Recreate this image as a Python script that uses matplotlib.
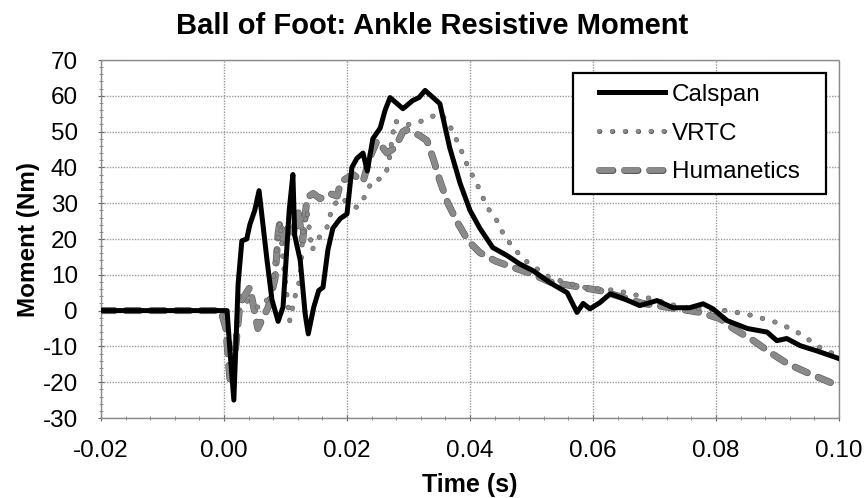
import matplotlib
matplotlib.use("Agg")
import matplotlib.pyplot as plt
import matplotlib.patheffects as pe
from matplotlib.patches import Rectangle
from matplotlib.ticker import MultipleLocator, FormatStrFormatter

plt.rcParams['font.family'] = ['Liberation Sans', 'DejaVu Sans']
plt.rcParams['axes.unicode_minus'] = False

# ---- data ----
calspan_t = [-0.02, 0.0005, 0.0010, 0.0016, 0.0023, 0.0029, 0.0037, 0.0042, 0.0050, 0.0057,
             0.0070, 0.0078, 0.0088, 0.0096, 0.0102, 0.0106, 0.0112, 0.0115, 0.0124, 0.0132,
             0.0137, 0.0146, 0.0154, 0.0161, 0.0169, 0.0177, 0.0189, 0.0200, 0.0208, 0.0216,
             0.0226, 0.0233, 0.0242, 0.0254, 0.0262, 0.0270, 0.0291, 0.0307, 0.0317, 0.0327,
             0.0340, 0.0351, 0.0367, 0.0384, 0.0400, 0.0416, 0.0437, 0.0460, 0.0481, 0.0502,
             0.0530, 0.0558, 0.0574, 0.0584, 0.0595, 0.0611, 0.0628, 0.0649, 0.0676, 0.0704,
             0.0730, 0.0757, 0.0779, 0.0795, 0.0818, 0.0851, 0.0883, 0.0899, 0.0915, 0.0937,
             0.0963, 0.1000]
calspan_m = [0, 0, -12, -25, 7.5, 19.5, 20, 24, 28, 33.5,
             14, 3, -3, 1, 17, 28, 38, 21, 14, -1,
             -6.5, 1, 5.6, 6.5, 17, 23, 25.7, 27, 40, 42.5,
             44, 39, 48, 51, 56, 59.5, 56.4, 58.7, 59.5, 61.5,
             59.5, 57.8, 45.5, 35.5, 28, 23, 17.6, 15.4, 13, 11.2,
             7.8, 5, -0.5, 2, 0.5, 2.2, 4.7, 3.4, 1.4, 2.8,
             0.8, 0.8, 1.9, 0.5, -2.8, -5, -6, -8.4, -7.8, -9.8,
             -11.2, -13.4]

vrtc_t = [-0.02, 0.0, 0.0008, 0.0015, 0.0020, 0.0026, 0.0047, 0.0063, 0.0078, 0.0086,
          0.0091, 0.0096, 0.0107, 0.0115, 0.0124, 0.0128, 0.0135, 0.0143, 0.0151, 0.0159,
          0.0167, 0.0176, 0.0189, 0.0197, 0.0216, 0.0228, 0.0241, 0.0257, 0.0267, 0.0273,
          0.0278, 0.0288, 0.0307, 0.0322, 0.0335, 0.0351, 0.0363, 0.0371, 0.0384, 0.0397,
          0.0411, 0.0428, 0.0441, 0.0454, 0.0470, 0.0494, 0.0530, 0.0584, 0.0639, 0.0693,
          0.0746, 0.0818, 0.0860, 0.0904, 0.0937, 0.0969, 0.1000]
vrtc_m = [0, 0, -8, -15, -5, 4.7, 1, 1, 5.6, 18,
          25, 14, -2.8, 3.6, 9, 21.5, 28, 16.8, 19.5, 21.5,
          23, 28.8, 31.6, 30.7, 28.8, 31.6, 36.3, 36.9, 40, 47.5,
          53, 52, 52, 53, 54, 55, 53, 50.3, 45.5, 40,
          35.5, 28.8, 26, 21.5, 17.5, 13.4, 9.2, 6.5, 5.6, 3.4,
          0.8, 0, -1.4, -3.6, -6.5, -10.3, -12.8]

hum_t = [-0.02, -0.0005, 0.0003, 0.0010, 0.0018, 0.0026, 0.0042, 0.0055, 0.0072, 0.0083,
         0.0088, 0.0091, 0.0099, 0.0104, 0.0112, 0.0120, 0.0128, 0.0135, 0.0145, 0.0156,
         0.0172, 0.0184, 0.0190, 0.0205, 0.0210, 0.0226, 0.0237, 0.0249, 0.0265, 0.0278,
         0.0291, 0.0296, 0.0317, 0.0330, 0.0341, 0.0351, 0.0364, 0.0380, 0.0397, 0.0416,
         0.0442, 0.0471, 0.0500, 0.0530, 0.0580, 0.0611, 0.0681, 0.0737, 0.0774, 0.0807,
         0.0828, 0.0861, 0.0888, 0.0916, 0.0948, 0.0985, 0.1000]
hum_m = [0, 0, -5, -20, -12, 2, 6.5, -5, 1, 9,
         21.5, 25, 17.6, 23, 21, 28, 19.5, 31.6, 32.7, 31.3,
         32.7, 32, 36, 37.5, 38, 36, 42.7, 47.5, 44, 45.5,
         50, 50.5, 49, 47.5, 42, 36.3, 30, 24.5, 19.5, 16.2,
         13.8, 12, 10.3, 8, 6.5, 5.6, 2, 0.5, -0.5, -2.3,
         -5, -8.4, -11.7, -14.8, -17.3, -20, -21]

series_names = ["Calspan", "VRTC", "Humanetics"]
x_ticks = [-0.02, 0.00, 0.02, 0.04, 0.06, 0.08, 0.10]
y_ticks = [-30, -20, -10, 0, 10, 20, 30, 40, 50, 60, 70]

# ---- figure ----
W, H = 865, 498
fig = plt.figure(figsize=(W/100, H/100), dpi=100)
ax = fig.add_axes([101/W, 1-418/H, (839-101)/W, (418-60)/H])

gray = '#8a8a8a'
edge = '#555555'

ax.plot(hum_t, hum_m, color=gray, lw=4.2, linestyle=(0, (2.3, 2.0)),
        dash_capstyle='round', label=series_names[2], zorder=3,
        path_effects=[pe.Stroke(linewidth=5.0, foreground=edge), pe.Normal()])
ax.plot(vrtc_t, vrtc_m, color=gray, lw=3.0, linestyle=(0, (0.1, 3.0)),
        dash_capstyle='round', label=series_names[1], zorder=3,
        path_effects=[pe.Stroke(linewidth=3.6, foreground=edge), pe.Normal()])
ax.plot(calspan_t, calspan_m, color='black', lw=3.6, label=series_names[0],
        solid_joinstyle='round', zorder=4)

ax.set_xlim(-0.02, 0.10)
ax.set_ylim(-30, 70)
ax.set_xticks(x_ticks)
ax.set_yticks(y_ticks)
ax.xaxis.set_major_formatter(FormatStrFormatter('%.2f'))
ax.xaxis.set_minor_locator(MultipleLocator(0.004))
ax.yaxis.set_minor_locator(MultipleLocator(2))

ax.grid(True, which='major', color='#9a9a9a', linestyle=(0, (1, 1)), lw=1.0)
for s in ax.spines.values():
    s.set_color('#8a8a8a')
    s.set_linestyle((0, (1, 1)))
    s.set_linewidth(1.0)

ax.tick_params(axis='x', which='major', labelsize=17.5, length=5, width=0.8,
               color='#666666', direction='inout', pad=13)
ax.tick_params(axis='y', which='major', labelsize=17.5, length=5, width=0.8,
               color='#666666', direction='inout', pad=14)
ax.tick_params(axis='both', which='minor', length=3, width=0.6,
               color='#777777', direction='inout')

ax.set_xlabel('Time (s)', fontsize=18, fontweight='bold', labelpad=8)
ax.set_ylabel('Moment (Nm)', fontsize=17.5, fontweight='bold', labelpad=2)
fig.suptitle('Ball of Foot: Ankle Resistive Moment', x=0.5, y=0.975,
             fontsize=21, fontweight='bold')

# legend box drawn manually
box = Rectangle((573/W, 1-194/H), (826-573)/W, (194-73)/H,
                transform=fig.transFigure, facecolor='white',
                edgecolor='black', linewidth=1.6, zorder=5, clip_on=False)
ax.add_patch(box)
h, l = ax.get_legend_handles_labels()
order = [2, 1, 0]
leg = ax.legend([h[i] for i in order], [l[i] for i in order],
                loc='center left', bbox_to_anchor=(599/W, 1-133.5/H),
                bbox_transform=fig.transFigure, fontsize=17.5,
                frameon=False, handlelength=2.7,
                handletextpad=0.3, labelspacing=0.68, borderpad=0.0,
                borderaxespad=0)
leg.set_zorder(6)

fig.savefig('out.png', dpi=100)
